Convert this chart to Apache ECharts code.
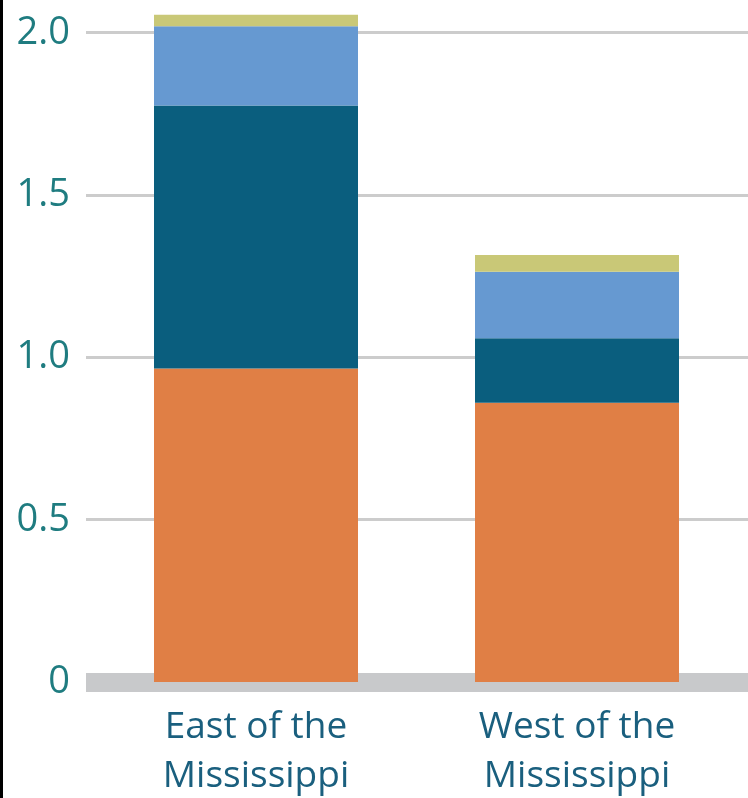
<!DOCTYPE html>
<html>
<head>
<meta charset="utf-8">
<script src="https://cdn.jsdelivr.net/npm/echarts@6/dist/echarts.min.js"></script>
<style>
  html, body { margin: 0; padding: 0; background: #ffffff; }
  #chart { width: 748px; height: 798px; }
</style>
</head>
<body>
<div id="chart"></div>
<script>
// Stacked totals by region
const categories = ['East of the\nMississippi', 'West of the\nMississippi'];
const seriesNames = ['Tier 1', 'Tier 2', 'Tier 3', 'Tier 4'];
const tier1 = [0.966, 0.860];
const tier2 = [0.810, 0.199];
const tier3 = [0.244, 0.205];
const tier4 = [0.035, 0.051];
const yTicks = [0, 0.5, 1.0, 1.5, 2.0];

const colors = ['#e07f45', '#0a5e7e', '#6699d1', '#c9c877'];
const seriesData = [tier1, tier2, tier3, tier4];

const chart = echarts.init(document.getElementById('chart'), null, { renderer: 'canvas' });

const gridTop = 32.7;
const gridHeight = 649.3;

const option = {
  animation: false,
  backgroundColor: '#ffffff',
  graphic: [{
    type: 'rect',
    left: 0, top: 0,
    shape: { width: 3, height: 798 },
    style: { fill: '#000000' },
    z: 100
  }],
  grid: [
    // wide grid: gridlines, baseline band and value labels
    { left: 86, right: 0, top: gridTop, height: gridHeight, outerBoundsMode: 'none', containLabel: false },
    // bar grid
    { left: 95.5, width: 642, top: gridTop, height: gridHeight, outerBoundsMode: 'none', containLabel: false }
  ],
  xAxis: [
    {
      gridIndex: 0, type: 'category', data: categories, z: 0,
      axisLine: { show: true, lineStyle: { color: '#c8c9cb', width: 19, cap: 'butt' } },
      axisTick: { show: false }, axisLabel: { show: false }, splitLine: { show: false }
    },
    {
      gridIndex: 1, type: 'category', data: categories,
      axisLine: { show: false }, axisTick: { show: false },
      axisLabel: {
        margin: 21,
        color: '#1a5f7e',
        fontFamily: 'Open Sans',
        fontSize: 37,
        lineHeight: 49,
        align: 'center'
      }
    }
  ],
  yAxis: [
    {
      gridIndex: 0, type: 'value', min: 0, max: 2.0, interval: 0.5, z: 0,
      axisLine: { show: false }, axisTick: { show: false },
      axisLabel: {
        margin: 16,
        color: '#1f7c80',
        fontFamily: 'Open Sans',
        fontSize: 38,
        padding: [0, 0, 22, 0],
        formatter: function (v) {
          const hit = yTicks.find(t => Math.abs(t - v) < 1e-9);
          if (hit === undefined) return '';
          return hit === 0 ? '0' : hit.toFixed(1);
        }
      },
      splitLine: { show: true, lineStyle: { color: '#cccccc', width: 3 } }
    },
    {
      gridIndex: 1, type: 'value', min: 0, max: 2.0, interval: 0.5,
      axisLine: { show: false }, axisTick: { show: false },
      axisLabel: { show: false }, splitLine: { show: false }
    }
  ],
  series: seriesData.map((d, i) => ({
    name: seriesNames[i],
    type: 'bar',
    xAxisIndex: 1,
    yAxisIndex: 1,
    stack: 'total',
    barWidth: 204,
    clip: false,
    z: 10,
    itemStyle: { color: colors[i] },
    data: d
  }))
};

chart.setOption(option);
</script>
</body>
</html>
